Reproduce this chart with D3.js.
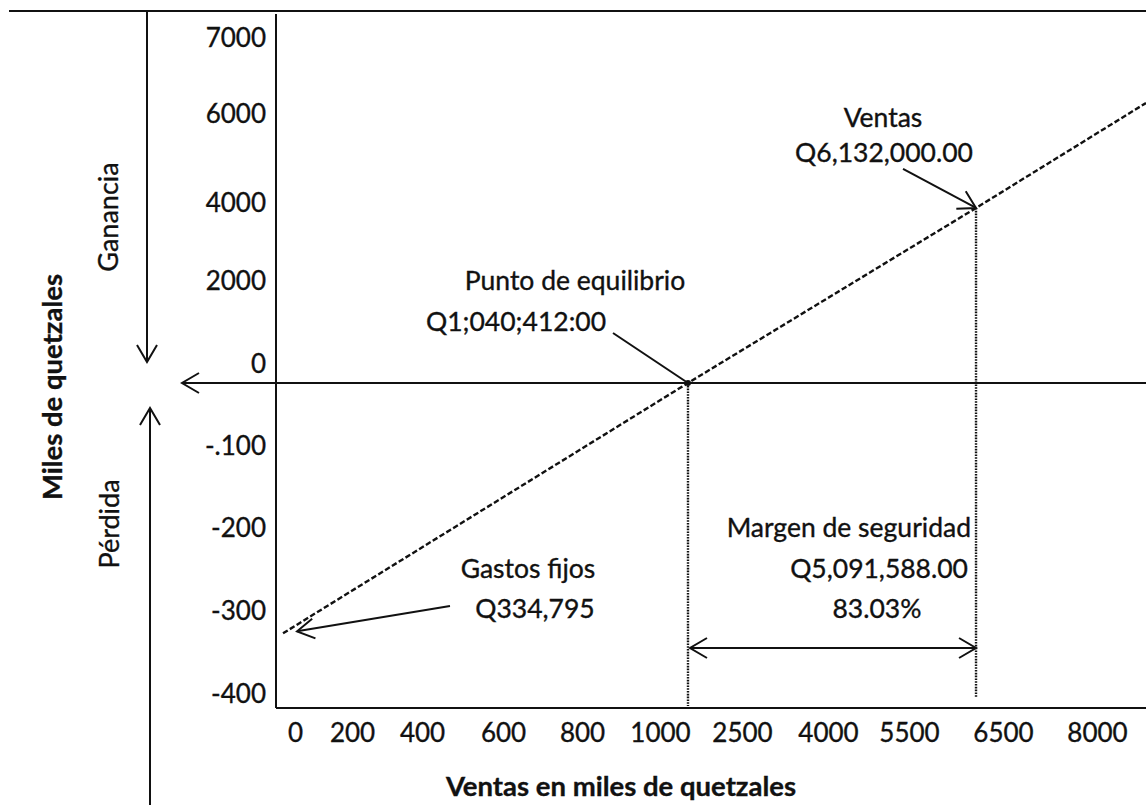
<!DOCTYPE html>
<html><head><meta charset="utf-8">
<script src="https://cdn.jsdelivr.net/npm/d3@7"></script>
<style>
body{margin:0;background:#fff}
svg text{font-family:Lato,'Open Sans',sans-serif;fill:#111;stroke:#111;stroke-width:0.35px}
</style>
</head><body>
<svg id="c" width="1146" height="805"></svg>
<script>
// ---- data ----
const xTickValues = [0, 200, 400, 600, 800, 1000, 2500, 4000, 5500, 6500, 8000];
const xTickLabels = ["0", "200", "400", "600", "800", "1000", "2500", "4000", "5500", "6500", "8000"];
const yTickValues = [7000, 6000, 4000, 2000, 0, -100, -200, -300, -400];
const yTickLabels = ["7000", "6000", "4000", "2000", "0", "-.100", "-200", "-300", "-400"];
// profit line (sales in miles, result in miles)
const lineSales  = [-42, 1512, 6213, 8782];
const lineProfit = [-304, 0, 4315, 6395];
const labelEquilibrio = ["Punto de equilibrio", "Q1;040;412:00"];
const labelVentas = ["Ventas", "Q6,132,000.00"];
const labelGastos = ["Gastos fijos", "Q334,795"];
const labelMargen = ["Margen de seguridad", "Q5,091,588.00", "83.03%"];
const yTitle = "Miles de quetzales";
const xTitle = "Ventas en miles de quetzales";
const sideLabels = ["Ganancia", "Pérdida"];

// ---- layout ----
const svg = d3.select("#c");
const xRange = [295, 352, 422, 503, 582, 660, 742, 828, 909, 1003, 1097];
const yRange = [57, 133, 222, 300, 383, 465, 547, 630, 713];
const x = d3.scaleLinear().domain(xTickValues).range(xRange);
const y = d3.scaleLinear().domain(yTickValues).range(yRange);
const axisX = 276, axisBottom = 708, right = 1146;
const FS = 26.5, TFS = 26, BFS = 27.5;

const defs = svg.append("defs");
defs.append("marker").attr("id", "arr").attr("viewBox", "-20 -12 24 24")
  .attr("refX", 0).attr("refY", 0).attr("markerWidth", 24).attr("markerHeight", 24)
  .attr("markerUnits", "userSpaceOnUse").attr("orient", "auto-start-reverse")
  .append("path").attr("d", "M-17,-10 L0,0 L-17,10").attr("fill", "none")
  .attr("stroke", "#111").attr("stroke-width", 2);

const line = (x1, y1, x2, y2, w = 2) => svg.append("line")
  .attr("x1", x1).attr("y1", y1).attr("x2", x2).attr("y2", y2)
  .attr("stroke", "#111").attr("stroke-width", w);

// frame lines
line(9, 11, right, 11, 2);
line(axisX, 14, axisX, axisBottom, 2);
line(axisX, axisBottom, right, axisBottom, 2);
line(right, y(0), 182, y(0), 2).attr("marker-end", "url(#arr)");
line(147, 11, 147, 362, 2).attr("marker-end", "url(#arr)");
line(150, 805, 150, 408, 2).attr("marker-end", "url(#arr)");

// axes
const gx = svg.append("g").attr("transform", `translate(0,${axisBottom})`)
  .call(d3.axisBottom(x).tickValues(xTickValues).tickFormat((d, i) => xTickLabels[i]).tickSize(0));
gx.select(".domain").remove();
gx.selectAll("text").attr("y", 25).attr("dy", "0.35em")
  .attr("font-size", TFS).attr("font-family", "Lato").attr("fill", "#111");

const gy = svg.append("g").attr("transform", `translate(266,0)`)
  .call(d3.axisLeft(y).tickValues(yTickValues).tickFormat((d, i) => yTickLabels[i]).tickSize(0).tickPadding(0));
gy.select(".domain").remove();
gy.selectAll("text").attr("x", 0).attr("y", -20).attr("dy", "0.35em")
  .attr("font-size", TFS).attr("font-family", "Lato").attr("fill", "#111");

// profit line
const pts = lineSales.map((s, i) => [s, lineProfit[i]]);
svg.append("path").datum(pts)
  .attr("d", d3.line().x(d => x(d[0])).y(d => y(d[1])))
  .attr("fill", "none").attr("stroke", "#111").attr("stroke-width", 2.4)
  .attr("stroke-dasharray", "5.5,2.5");

const pStart = pts[0], pEq = pts[1], pV = pts[2];
// dotted verticals
line(x(pEq[0]), y(pEq[1]), x(pEq[0]), axisBottom - 2, 2.4).attr("stroke-dasharray", "1.6,1.2");
line(x(pV[0]), y(pV[1]), x(pV[0]), 697, 2.4).attr("stroke-dasharray", "1.6,1.2");
svg.append("circle").attr("cx", x(pEq[0])).attr("cy", y(pEq[1])).attr("r", 3).attr("fill", "#111");

// pointers
line(x(pEq[0]) - 75, y(pEq[1]) - 50, x(pEq[0]), y(pEq[1]), 2);
line(x(pV[0]) - 73, y(pV[1]) - 39, x(pV[0]), y(pV[1]), 2).attr("marker-end", "url(#arr)");
line(450, 606, x(pStart[0]) + 14, y(pStart[1]) - 2, 2).attr("marker-end", "url(#arr)");
line(x(pEq[0]) + 2, 648, x(pV[0]), 648, 2)
  .attr("marker-start", "url(#arr)").attr("marker-end", "url(#arr)");

// texts
const txt = (s, tx, ty, anchor = "middle", opts = {}) => {
  const t = svg.append("text").attr("x", tx).attr("y", ty).attr("text-anchor", anchor)
    .attr("dominant-baseline", "central").attr("font-size", opts.fs || FS)
    .attr("font-weight", opts.bold ? "bold" : "normal").text(s);
  if (opts.rot) t.attr("transform", `rotate(-90,${tx},${ty})`);
  return t;
};
txt(labelEquilibrio[0], 575, 280);
txt(labelEquilibrio[1], 516, 321);
txt(labelVentas[0], 883, 117);
txt(labelVentas[1], 884, 152);
txt(labelGastos[0], 528, 568);
txt(labelGastos[1], 535, 608);
txt(labelMargen[0], 971, 527, "end");
txt(labelMargen[1], 968, 568, "end");
txt(labelMargen[2], 877, 608);
txt(sideLabels[0], 107, 217, "middle", {rot: true, fs: 27});
txt(sideLabels[1], 108, 524, "middle", {rot: true, fs: 27});
txt(yTitle, 51, 387, "middle", {rot: true, bold: true, fs: BFS});
svg.append("text").attr("x", 621).attr("y", 796).attr("text-anchor", "middle")
  .attr("font-size", BFS).attr("font-weight", "bold").text(xTitle);
</script>
</body></html>
